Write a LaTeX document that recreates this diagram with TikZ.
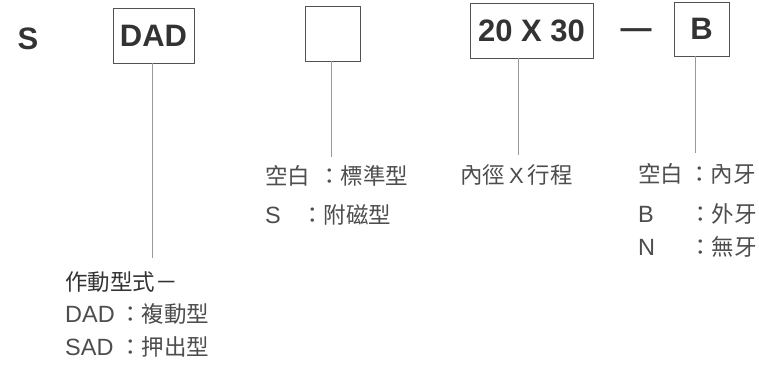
\documentclass[tikz,border=0pt]{standalone}
\usepackage{fontspec}
\setmainfont{Liberation Sans}
\newfontfamily\cjk{Noto Sans CJK TC}
\newcommand\zh{\cjk\fontsize{22.5}{23}\selectfont}
\definecolor{ink}{HTML}{333333}
\definecolor{notegray}{HTML}{4D4D4D}
\definecolor{leadgray}{HTML}{999999}
\tikzset{
   codebox/.style={draw=ink!85, line width=0.8pt, inner sep=0pt, text=ink,
      font=\bfseries\fontsize{31}{31}\selectfont},
   lead/.style={draw=leadgray, line width=0.6pt},
   note/.style={anchor=west, inner sep=0pt, text=notegray,
      font=\fontsize{23.5}{23}\selectfont}
}

\begin{document}
\begin{tikzpicture}[x=1pt,y=-1pt]
   \useasboundingbox (0,0) rectangle (759,366);

   \node[codebox,draw=none] (series) at (28,39) {S};
   \node[codebox,minimum width=81pt,minimum height=55pt] (act) at (153.5,35.5) {DAD};
   \node[codebox,minimum width=55pt,minimum height=55pt] (mag) at (332.5,33.5) {};
   \node[codebox,minimum width=123pt,minimum height=55pt] (size) at (531.5,30.5) {20 X 30};
   \node[codebox,draw=none] (sep) at (636,34) {—};
   \node[codebox,minimum width=55pt,minimum height=54pt] (thread) at (701.5,29) {B};

   \coordinate (actend) at (152,258);
   \coordinate (magend) at (331,157);
   \coordinate (sizeend) at (518,155);
   \coordinate (threadend) at (695,153);
   \draw[lead] (act.south -| actend) -- (actend);
   \draw[lead] (mag.south -| magend) -- (magend);
   \draw[lead] (size.south -| sizeend) -- (sizeend);
   \draw[lead] (thread.south -| threadend) -- (threadend);

   \node[note,text=ink] (acthead) at (65,282) {\zh 作動型式－};
   \node[note] (actdad) at (65,314) {\makebox[54pt][l]{DAD}{\zh ：複動型}};
   \node[note] (actsad) at (65,347) {\makebox[54pt][l]{SAD}{\zh ：押出型}};

   \node[note] (magstd) at (265,176) {\zh 空白\hspace{8pt}：標準型};
   \node[note] (magS) at (265,215) {\makebox[36pt][l]{S}{\zh ：附磁型}};

   \node[note] (sizetxt) at (460,175) {\zh 內徑\hspace{4pt}{\normalfont\fontsize{22}{23}\selectfont X}\hspace{4pt}行程};

   \node[note] (thrin) at (638,174) {\zh 空白\hspace{5pt}：內牙};
   \node[note] (throut) at (638,214) {\makebox[51pt][l]{B}{\zh ：外牙}};
   \node[note] (thrnone) at (638,247) {\makebox[51pt][l]{N}{\zh ：無牙}};
\end{tikzpicture}
\end{document}
